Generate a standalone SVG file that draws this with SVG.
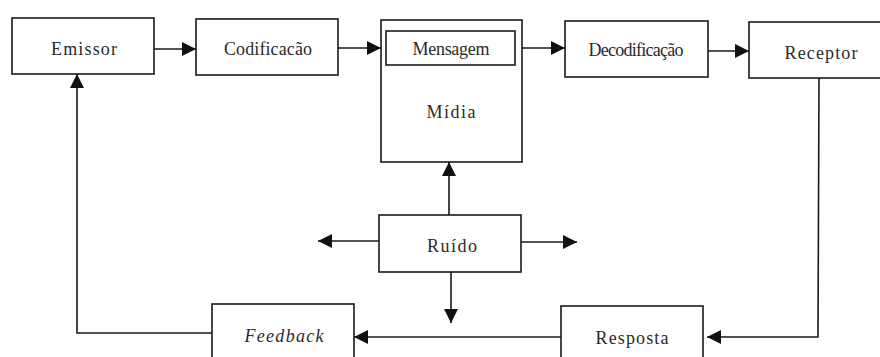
<svg xmlns="http://www.w3.org/2000/svg" width="880" height="357" viewBox="0 0 880 357">
<style>
.box{fill:#fff;stroke:#1a1a1a;stroke-width:1.6}
.ln{fill:none;stroke:#1a1a1a;stroke-width:1.6}
.t{font-family:'Liberation Serif','DejaVu Serif','Times New Roman',serif;font-size:18px;fill:#2a2a2a;text-anchor:middle}
</style>
<defs>
<marker id="ah2" viewBox="0 0 10 10" refX="10" refY="5" markerWidth="15" markerHeight="14" markerUnits="userSpaceOnUse" orient="auto">
<path d="M0,0 L10,5 L0,10 Z" fill="#111"/>
</marker>
</defs>
<rect width="880" height="357" fill="#fff"/>
<g id="connectors">
<line class="ln" x1="154" y1="49" x2="196" y2="49" marker-end="url(#ah2)"/>
<line class="ln" x1="338" y1="48" x2="381" y2="48" marker-end="url(#ah2)"/>
<line class="ln" x1="522" y1="48" x2="565" y2="48" marker-end="url(#ah2)"/>
<line class="ln" x1="708" y1="51" x2="749" y2="51" marker-end="url(#ah2)"/>
<polyline class="ln" points="819,78 818,337 707,337" marker-end="url(#ah2)"/>
<line class="ln" x1="561" y1="337" x2="354" y2="337" marker-end="url(#ah2)"/>
<polyline class="ln" points="212,333 77,333 77,74" marker-end="url(#ah2)"/>
<line class="ln" x1="449" y1="215" x2="449" y2="162" marker-end="url(#ah2)"/>
<line class="ln" x1="379" y1="241" x2="318" y2="241" marker-end="url(#ah2)"/>
<line class="ln" x1="521" y1="242" x2="577" y2="242" marker-end="url(#ah2)"/>
<line class="ln" x1="451" y1="272" x2="451" y2="323" marker-end="url(#ah2)"/>
</g>
<g id="emissor">
<rect class="box" x="12" y="18" width="142" height="56"/>
<text class="t" x="84" y="55" textLength="66">Emissor</text>
</g>
<g id="codificacao">
<rect class="box" x="196" y="19" width="142" height="56"/>
<text class="t" x="268" y="55" textLength="88">Codificacão</text>
</g>
<g id="midia">
<rect class="box" x="381" y="20" width="141" height="142"/>
<text class="t" x="451" y="118" textLength="49">Mídia</text>
</g>
<g id="mensagem">
<rect class="box" x="386" y="31" width="129" height="34"/>
<text class="t" x="451" y="55" textLength="77">Mensagem</text>
</g>
<g id="decodificacao">
<rect class="box" x="565" y="21" width="143" height="56"/>
<text class="t" x="636" y="56" font-size="16" textLength="95">Decodificação</text>
</g>
<g id="receptor">
<rect class="box" x="749" y="22" width="150" height="56"/>
<text class="t" x="821" y="59" textLength="73">Receptor</text>
</g>
<g id="ruido">
<rect class="box" x="379" y="215" width="142" height="57"/>
<text class="t" x="452" y="252" textLength="50">Ruído</text>
</g>
<g id="feedback">
<rect class="box" x="212" y="304" width="142" height="70"/>
<text class="t" x="284" y="342" font-style="italic" textLength="79">Feedback</text>
</g>
<g id="resposta">
<rect class="box" x="561" y="306" width="142" height="70"/>
<text class="t" x="632" y="344" textLength="73">Resposta</text>
</g>
</svg>
